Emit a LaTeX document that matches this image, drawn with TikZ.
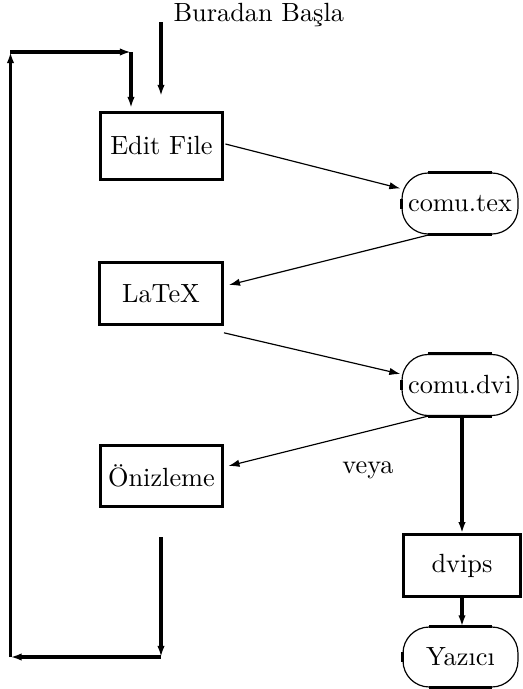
\documentclass[tikz,border=0pt]{standalone}
\usetikzlibrary{arrows.meta,calc}
\begin{document}
\begin{tikzpicture}[x=0.38pt,y=-0.38pt,
  thickln/.style={line width=1.15pt},
  thinln/.style={line width=0.45pt},
  tip/.style={-{Latex[length=4.2pt,width=2.8pt]}},
  boxnode/.style={draw,thickln,inner sep=0pt,minimum width=46.7pt,minimum height=23.4pt,font=\normalsize},
  ovalnode/.style={draw,thinln,rounded corners=10pt,inner sep=0pt,minimum width=44.1pt,minimum height=23.2pt},
  lbl/.style={inner sep=0pt}]
\useasboundingbox (0,0) rectangle (523,689);
% boxes
\node[boxnode,minimum height=25.8pt] (ef) at (161.5,146) {Edit File};
\node[boxnode] (lat) at (161,293.5) {LaTeX};
\node[boxnode] (oni) at (161.5,476) {Önizleme};
\node[boxnode,minimum width=44.8pt] (dvips) at (462,565.5) {dvips};
% ovals
\node[ovalnode] (tex) at (460,203.5) {comu.tex};
\node[ovalnode] (dvi) at (460,385) {comu.dvi};
\node[ovalnode,minimum width=43.7pt,minimum height=22.8pt] (yaz) at (460.5,657) {Yazıcı};
\foreach \n in {tex,dvi,yaz}{
  \draw[thickln] ($(\n.north west)+(27,0)$) -- ($(\n.north east)+(-27,0)$);
  \draw[thickln] ($(\n.south west)+(27,0)$) -- ($(\n.south east)+(-27,0)$);
  \draw[thickln] ($(\n.west)+(0,-5)$) -- ($(\n.west)+(0,5)$);
}
% labels
\node[lbl,anchor=base west] (start) at (173,21) {Buradan Başla};
\node[lbl] (veya) at (368,470) {veya};
% start arrow
\coordinate (s1) at (161,22);
\coordinate (s2) at (161,96);
\draw[thickln,tip] (s1) -- (s2);
% diagonal arrows
\draw[thinln,tip] ($(ef.east)+(1,-2)$) -- ($(tex.west)+(-1,-15)$);
\draw[thinln,tip] ($(tex.south)+(-30,0)$) -- ($(lat.east)+(5,-8.5)$);
\draw[thinln,tip] ($(lat.south east)+(0,7)$) -- ($(dvi.west)+(-1,-11)$);
\draw[thinln,tip] ($(dvi.south)+(-32,0)$) -- ($(oni.east)+(4,-10)$);
% vertical arrows right
\draw[thickln,tip] (dvips.north |- dvi.south) -- (dvips.north);
\draw[thickln,tip] (dvips.south) -- (dvips.south |- yaz.north);
% loop
\coordinate (b1) at (161,537);
\coordinate (b2) at (161,657);
\coordinate (bl) at (10.5,657);
\coordinate (tl) at (10.5,52);
\coordinate (tr) at (131,52);
\coordinate (te) at (131,108);
\draw[thickln,tip] (b1) -- (b2);
\draw[thickln,tip] (b2) -- (bl);
\draw[thickln,tip] (bl) -- (tl);
\draw[thickln,tip] (tl) -- (tr);
\draw[thickln,tip] (tr) -- (te);
\end{tikzpicture}
\end{document}
